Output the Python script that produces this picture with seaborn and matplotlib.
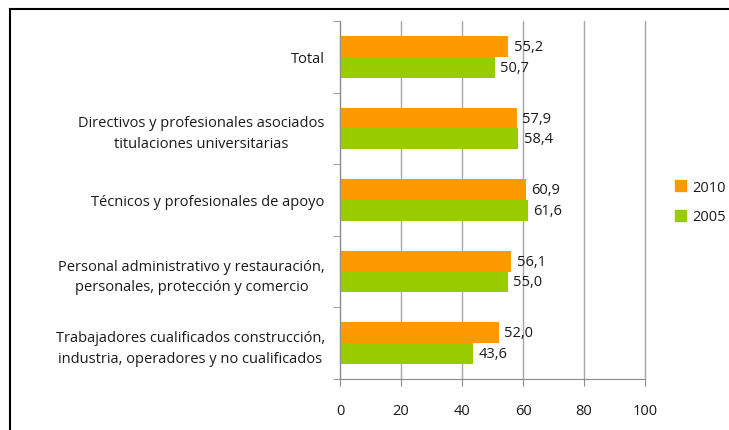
import pandas as pd
import numpy as np
import matplotlib.pyplot as plt
import matplotlib.patches as mpatches
import seaborn as sns

categories = ["Total",
              "Directivos y profesionales asociados\ntitulaciones universitarias",
              "Técnicos y profesionales de apoyo",
              "Personal administrativo y restauración,\npersonales, protección y comercio",
              "Trabajadores cualificados construcción,\nindustria, operadores y no cualificados"]
values_2010 = [55.2, 57.9, 60.9, 56.1, 52.0]
values_2005 = [50.7, 58.4, 61.6, 55.0, 43.6]
years = ["2010", "2005"]
colors = ["#FF9900", "#99CC00"]

df = pd.DataFrame({
    "cat": categories * 2,
    "year": ["2010"] * 5 + ["2005"] * 5,
    "val": values_2010 + values_2005,
})

sns.set_style("white")
plt.rcParams['font.family'] = ['Open Sans', 'DejaVu Sans']

fig = plt.figure(figsize=(7.29, 4.31), dpi=100)
ax = fig.add_axes([340/729, 1-380/431, 305/729, 358/431])

sns.barplot(ax=ax, data=df, x="val", y="cat", hue="year", hue_order=years,
            palette=colors, orient="h", width=0.58, saturation=1, legend=False,
            linewidth=0)

for cont in ax.containers:
    ax.bar_label(cont, labels=[f"{b.get_width():.1f}".replace('.', ',') for b in cont],
                 padding=4, fontsize=10.5, color="#1a1a1a")

ax.set_xlim(0, 100)
ax.set_ylim(4.5, -0.5)
ax.set_xticks(np.arange(0, 101, 20))
ax.xaxis.grid(True, color="#A6A6A6", lw=1)
for gl in ax.get_xgridlines():
    gl.set_clip_on(False)
ax.set_axisbelow(True)
ax.set_xlabel("")
ax.set_ylabel("")
for s in ["top", "right"]:
    ax.spines[s].set_visible(False)
for s in ["left", "bottom"]:
    ax.spines[s].set_color("#8C8C8C")
ax.tick_params(axis="x", length=5, color="#8C8C8C", pad=12, labelsize=10.5, direction="out",
               bottom=True, labelcolor="#1a1a1a")
ax.tick_params(axis="y", which="major", length=0, pad=11, labelsize=10.5, labelcolor="#1a1a1a")
ax.set_yticks(np.arange(-0.5, 5, 1), minor=True)
ax.tick_params(axis="y", which="minor", length=5, color="#8C8C8C", left=True, direction="out")
for t in ax.get_yticklabels():
    t.set_multialignment("center")
    t.set_linespacing(1.5)

handles = [mpatches.Patch(color=c, label=y) for c, y in zip(colors, years)]
fig.legend(handles=handles, loc="center left", bbox_to_anchor=(662/729, 1-203/431),
           frameon=False, fontsize=10.5, handlelength=0.75, handleheight=0.75,
           handletextpad=0.4, labelspacing=1.0, labelcolor="#1a1a1a")

fig.add_artist(mpatches.Rectangle((9.5/729, -0.2), 1.0, 1.2 - 9.5/431,
                                  transform=fig.transFigure, fill=False,
                                  edgecolor="black", lw=1.5, clip_on=False))

fig.savefig("out.png", dpi=100)
